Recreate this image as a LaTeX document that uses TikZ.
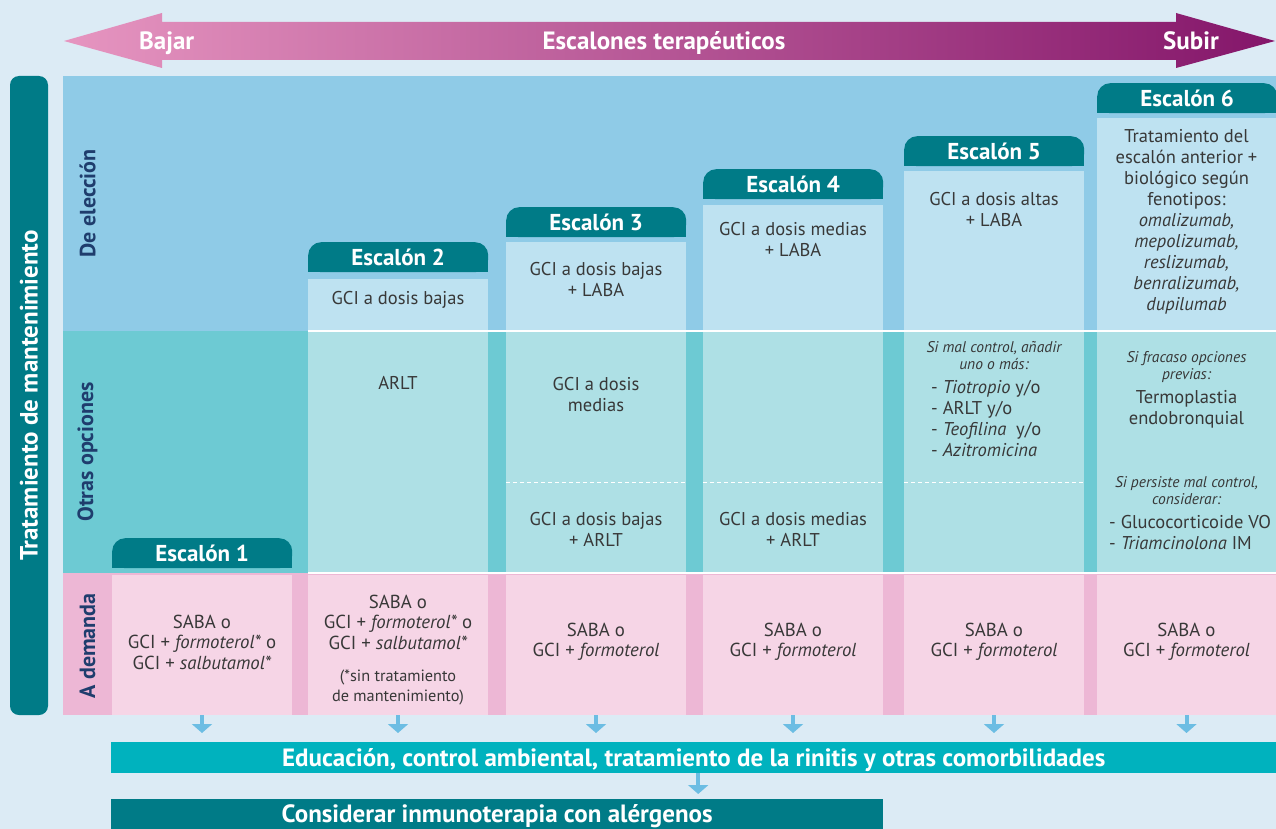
\documentclass[tikz,border=0pt]{standalone}
\usepackage{fontspec}
\setmainfont{PT Sans}
\usetikzlibrary{arrows.meta,positioning}
\definecolor{bgblue}{HTML}{DCEBF5}
\definecolor{arrowpink}{HTML}{E695C0}
\definecolor{arrowplum}{HTML}{84166A}
\definecolor{tealdark}{HTML}{007B87}
\definecolor{rowchoice}{HTML}{8FCBE7}
\definecolor{cellchoice}{HTML}{BEE2F1}
\definecolor{rowother}{HTML}{6DCAD3}
\definecolor{cellother}{HTML}{AEE0E5}
\definecolor{rowdemand}{HTML}{EDB7D5}
\definecolor{celldemand}{HTML}{F6D5E6}
\definecolor{navy}{HTML}{1F3D6D}
\definecolor{ink}{HTML}{383838}
\definecolor{dropblue}{HTML}{6CBDE3}
\definecolor{cyanbar}{HTML}{00B2BE}

\begin{document}
\begin{tikzpicture}[x=1pt,y=-1pt,
  band/.style={anchor=north west,inner sep=0,outer sep=0},
  cell/.style={anchor=north west,inner sep=0,outer sep=0,minimum width=180pt},
  steptab/.style={anchor=north west,fill=tealdark,rounded corners=13pt,minimum width=180pt,
    minimum height=30pt,inner sep=0,text height=16pt,text depth=0pt,text=white,
    font=\fontsize{23}{25}\selectfont\bfseries},
  txt/.style={align=center,inner sep=0,text=ink,font=\fontsize{18.5}{21}\selectfont},
  demand/.style={txt,font=\fontsize{18.8}{20.5}\selectfont},
  hint/.style={align=center,inner sep=0,text=ink,font=\fontsize{15.5}{17}\selectfont\itshape},
  rowlabel/.style={rotate=90,inner sep=0,text=navy,font=\fontsize{22}{24}\selectfont\bfseries},
  arrowtext/.style={inner sep=0,text=white,font=\fontsize{25}{28}\selectfont\bfseries},
  strip/.style={anchor=north west,inner sep=0,minimum height=31pt,text height=17.5pt,text depth=0pt,
    text=white,font=\fontsize{25}{28}\selectfont\bfseries},
  drop/.style={-{Triangle[width=20pt,length=9pt]},line width=4pt,draw=dropblue,shorten >=9pt},
  splitline/.style={white,line width=1.2pt},
  dashsplit/.style={white,line width=1pt,dash pattern=on 4pt off 3pt}]
\useasboundingbox (0,0) rectangle (1276,829);
\fill[bgblue] (0,0) rectangle (1276,829);

\shade[left color=arrowpink,right color=arrowplum] (64,41) -- (162,13) -- (162,22) -- (1176,22)
  -- (1176,13) -- (1275,41) -- (1176,68) -- (1176,60) -- (162,60) -- (162,68) -- cycle;
\node[arrowtext,anchor=base west] (bajar) at (139,50) {Bajar};
\node[arrowtext,anchor=base] (escalones) at (664,50) {Escalones terapéuticos};
\node[arrowtext,anchor=base east] (subir) at (1219,50) {Subir};

\node[fill=tealdark,rounded corners=9pt,rotate=90,minimum width=639pt,minimum height=38pt,inner sep=0,
  text=white,font=\fontsize{25}{28}\selectfont\bfseries] (mant) at (29,395.5) {Tratamiento de mantenimiento};

\node[band,fill=rowchoice,minimum width=1213pt,minimum height=255pt] (eleccion) at (63,76) {};
\node[band,fill=rowother,minimum width=1213pt,minimum height=242pt] (otras) at (63,331) {};
\node[band,fill=rowdemand,minimum width=1213pt,minimum height=142pt] (demanda) at (63,573) {};
\node[rowlabel] (lbl1) at (87.5,203.5) {De elección};
\node[rowlabel] (lbl2) at (87.5,452) {Otras opciones};
\node[rowlabel] (lbl3) at (87.5,646) {A demanda};

\node[cell,fill=cellchoice,minimum height=52pt] (a2) at (308,279) {};
\node[cell,fill=cellchoice,minimum height=89pt] (a3) at (506,242) {};
\node[cell,fill=cellchoice,minimum height=126pt] (a4) at (703,205) {};
\node[cell,fill=cellchoice,minimum height=160pt] (a5) at (904,171) {};
\node[cell,fill=cellchoice,minimum height=213pt,minimum width=179pt] (a6) at (1097,118) {};
\node[cell,fill=cellother,minimum height=242pt] (b2) at (308,331) {};
\node[cell,fill=cellother,minimum height=242pt] (b3) at (506,331) {};
\node[cell,fill=cellother,minimum height=242pt] (b4) at (703,331) {};
\node[cell,fill=cellother,minimum height=242pt] (b5) at (904,331) {};
\node[cell,fill=cellother,minimum height=242pt,minimum width=179pt] (b6) at (1097,331) {};
\node[cell,fill=celldemand,minimum height=140pt] (c1) at (112,575) {};
\node[cell,fill=celldemand,minimum height=140pt] (c2) at (308,575) {};
\node[cell,fill=celldemand,minimum height=140pt] (c3) at (506,575) {};
\node[cell,fill=celldemand,minimum height=140pt] (c4) at (703,575) {};
\node[cell,fill=celldemand,minimum height=140pt] (c5) at (904,575) {};
\node[cell,fill=celldemand,minimum height=140pt,minimum width=179pt] (c6) at (1097,575) {};
\draw[splitline] (a2.south west) -- (a6.south east);
\draw[splitline] (b2.south west) -- (b6.south east);
\draw[dashsplit] ([yshift=-30pt]b3.west) -- ([yshift=-30pt]b3.east);
\draw[dashsplit] ([yshift=-30pt]b4.west) -- ([yshift=-30pt]b4.east);
\draw[dashsplit] ([yshift=-30pt]b5.west) -- ([yshift=-30pt]b5.east);

\fill[tealdark] (112,553) rectangle (292,568);
\fill[tealdark] (308,257) rectangle (488,272);
\fill[tealdark] (506,222) rectangle (686,237);
\fill[tealdark] (703,184) rectangle (883,199);
\fill[tealdark] (904,151) rectangle (1084,166);
\fill[tealdark] (1097,98) rectangle (1276,113);
\node[steptab] (t1) at (112,538) {Escalón 1};
\node[steptab] (t2) at (308,242) {Escalón 2};
\node[steptab] (t3) at (506,207) {Escalón 3};
\node[steptab] (t4) at (703,169) {Escalón 4};
\node[steptab] (t5) at (904,136) {Escalón 5};
\node[steptab] (t6) at (1097,83) {Escalón 6};

\node[txt] (a2txt) at (398,300) {GCI a dosis bajas};
\node[txt] (a3txt) at (596,279) {GCI a dosis bajas\\+ LABA};
\node[txt] (a4txt) at (793,239) {GCI a dosis medias\\+ LABA};
\node[txt] (a5txt) at (994,209) {GCI a dosis altas\\+ LABA};
\node[txt] (a6txt) at (1186.5,222) {Tratamiento del\\escalón anterior +\\biológico según\\fenotipos:\\
  \textit{omalizumab,}\\\textit{mepolizumab,}\\\textit{reslizumab,}\\\textit{benralizumab,}\\\textit{dupilumab}};

\node[txt] (b2txt) at (398,383) {ARLT};
\node[txt] (b3txt) at (596,395) {GCI a dosis\\medias};
\node[txt] (b3low) at (596,529) {GCI a dosis bajas\\+ ARLT};
\node[txt] (b4low) at (793,529) {GCI a dosis medias\\+ ARLT};
\node[hint] (b5hint) at (994,356) {Si mal control, añadir\\uno o más:};
\node[txt,align=left,anchor=west] (b5list) at (931,419) {- \textit{Tiotropio} y/o\\- ARLT y/o\\
  - \textit{Teofilina}~ y/o\\- \textit{Azitromicina}};
\node[hint] (b6hint) at (1186.5,367) {Si fracaso opciones\\previas:};
\node[txt] (b6txt) at (1186.5,409) {Termoplastia\\endobronquial};
\node[hint] (b6hint2) at (1186.5,491) {Si persiste mal control,\\considerar:};
\node[txt,align=left,anchor=west] (b6list) at (1109,533) {- Glucocorticoide VO\\- \textit{Triamcinolona} IM};

\node[demand] (c1txt) at (202,642) {SABA o\\GCI + \textit{formoterol*} o\\GCI + \textit{salbutamol*}};
\node[demand] (c2txt) at (398,622) {SABA o\\GCI + \textit{formoterol*} o\\GCI + \textit{salbutamol*}};
\node[txt,font=\fontsize{16.3}{20}\selectfont] (c2note) at (398,687) {(*sin tratamiento\\de mantenimiento)};
\node[demand] (c3txt) at (596,642) {SABA o\\GCI + \textit{formoterol}};
\node[demand] (c4txt) at (793,642) {SABA o\\GCI + \textit{formoterol}};
\node[demand] (c5txt) at (994,642) {SABA o\\GCI + \textit{formoterol}};
\node[demand] (c6txt) at (1186.5,642) {SABA o\\GCI + \textit{formoterol}};

\node[strip,fill=cyanbar,minimum width=1165pt] (edu) at (111,742)
  {Educación, control ambiental, tratamiento de la rinitis y otras comorbilidades};
\node[strip,fill=tealdark,minimum width=772pt,minimum height=30pt] (inmuno) at (111,799)
  {Considerar inmunoterapia con alérgenos};
\draw[drop] (c1.south) -- (c1.south |- edu.north);
\draw[drop] (c2.south) -- (c2.south |- edu.north);
\draw[drop] (c3.south) -- (c3.south |- edu.north);
\draw[drop] (c4.south) -- (c4.south |- edu.north);
\draw[drop] (c5.south) -- (c5.south |- edu.north);
\draw[drop] (c6.south) -- (c6.south |- edu.north);
\draw[drop,shorten >=5pt] ([xshift=4.5pt]edu.south) -- ([xshift=4.5pt]edu.south |- inmuno.north);
\end{tikzpicture}
\end{document}
